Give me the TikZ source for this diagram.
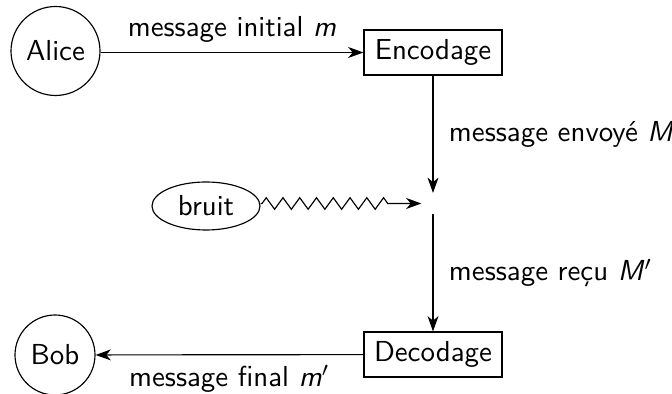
\documentclass[tikz,border=0pt]{standalone}
\usetikzlibrary{arrows.meta,decorations.pathmorphing,shapes.geometric}
\renewcommand{\familydefault}{\sfdefault}
\begin{document}
\begin{tikzpicture}[x=0.346pt,y=-0.346pt,
  every node/.style={font=\sffamily},
  person/.style={draw,circle,inner sep=0pt},
  procbox/.style={draw,rectangle,minimum width=138*0.346pt,minimum height=45*0.346pt,inner sep=0pt},
  flow/.style={-{Stealth[length=5.3pt,width=3.8pt,inset=1.6pt]}},
  noisy/.style={flow,decorate,decoration={zigzag,segment length=5.8pt,amplitude=2pt,post length=3.2mm,pre length=0.5pt}}]
\useasboundingbox (0,0) rectangle (672,394);
\node[person,minimum size=89*0.346pt] (alice) at (55.5,51) {Alice};
\node[procbox] (enc) at (433,52.5) {Encodage};
\node[inner sep=0pt,minimum width=22*0.346pt,minimum height=20*0.346pt] (mid) at (433,203.5) {};
\node[draw,ellipse,minimum width=108*0.346pt,minimum height=48*0.346pt,inner sep=0pt] (bruit) at (206,206) {bruit};
\node[procbox] (dec) at (433,354.5) {Decodage};
\node[person,minimum size=80*0.346pt] (bob) at (55,355) {Bob};
\draw[flow] (alice.east |- enc.west) -- node[above] {message initial \textit{m}} (enc.west);
\draw[flow] (enc) -- node[right,xshift=2pt] {message envoyé \textit{M}} (mid);
\draw[noisy] (bruit.east |- mid) -- (mid.west);
\draw[flow] (mid) -- node[right,xshift=2pt] {message reçu \textit{M}$'$} (dec);
\draw[flow] (dec) -- node[below] {message final \textit{m}$'$} (bob);
\end{tikzpicture}
\end{document}
